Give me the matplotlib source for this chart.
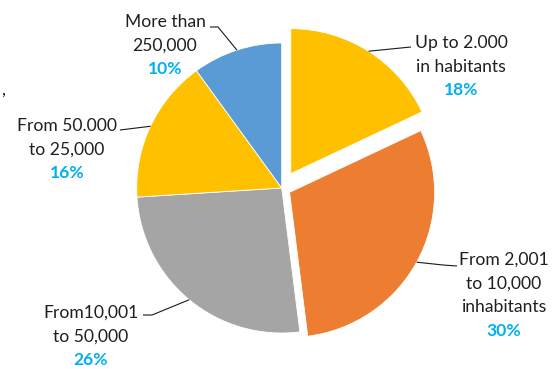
import numpy as np
import matplotlib
matplotlib.use("Agg")
import matplotlib.pyplot as plt

# Share of municipalities by population size
categories = [
    "Up to 2.000\nin habitants",
    "From 2,001\nto 10,000\ninhabitants",
    "From10,001\nto 50,000",
    "From 50.000\nto 25,000",
    "More than\n250,000",
]
shares = [18, 30, 26, 16, 10]
colors = ["#FFC000", "#ED7D31", "#A5A5A5", "#FFC000", "#5B9BD5"]
explode_px = [17, 9, 0, 0, 0]

W, H = 552, 369
fig = plt.figure(figsize=(W / 100, H / 100), dpi=100)
ax = fig.add_axes([0, 0, 1, 1])

cx, cy, R = 281.7, H - 188, 145
wedges, _ = ax.pie(shares, colors=colors, startangle=90, counterclock=False,
                   center=(cx, cy), radius=R, explode=explode_px,
                   wedgeprops=dict(linewidth=0.6, edgecolor="white"))
ax.set_xlim(0, W)
ax.set_ylim(0, H)
ax.set_aspect("equal")
ax.axis("off")

FONT = "Lato"
TXT = "#1f1f1f"
PCT = "#00B0F0"
FS = 12.6
LINE = 23.5

# label block placement (top line centre), elbow and end of the leader line
layout = [
    dict(x=461, y=43, elbow=None, end=(411, 47)),
    dict(x=504, y=260, elbow=(443, 265), end=(457, 266)),
    dict(x=91, y=313, elbow=(152, 315), end=(143, 315)),
    dict(x=67, y=126, elbow=None, end=(120, 130)),
    dict(x=165, y=22, elbow=(218, 27), end=(210, 27)),
]

for w, name, val, lay in zip(wedges, categories, shares, layout):
    # point on the arc at the middle of the wedge
    mid = np.deg2rad((w.theta1 + w.theta2) / 2)
    wx, wy = w.center
    px, py = wx + w.r * np.cos(mid), wy + w.r * np.sin(mid)
    pts = [(px, py)]
    if lay["elbow"] is not None:
        pts.append((lay["elbow"][0], H - lay["elbow"][1]))
    pts.append((lay["end"][0], H - lay["end"][1]))
    xs, ys = zip(*pts)
    ax.plot(xs, ys, color="#1a1a1a", lw=0.8, solid_capstyle="butt")

    lines = name.split("\n")
    for i, ln in enumerate(lines):
        ax.text(lay["x"], H - (lay["y"] + i * LINE), ln, ha="center", va="center",
                fontsize=FS, color=TXT, family=FONT)
    ax.text(lay["x"], H - (lay["y"] + len(lines) * LINE), f"{val}%", ha="center",
            va="center", fontsize=FS, color=PCT, family=FONT, fontweight="bold")

# trailing comma of a neighbouring label at the left border
ax.text(5, H - 90, ",", ha="right", va="center", fontsize=FS, color=TXT, family=FONT)

fig.savefig("out.png", dpi=100, facecolor="white")
